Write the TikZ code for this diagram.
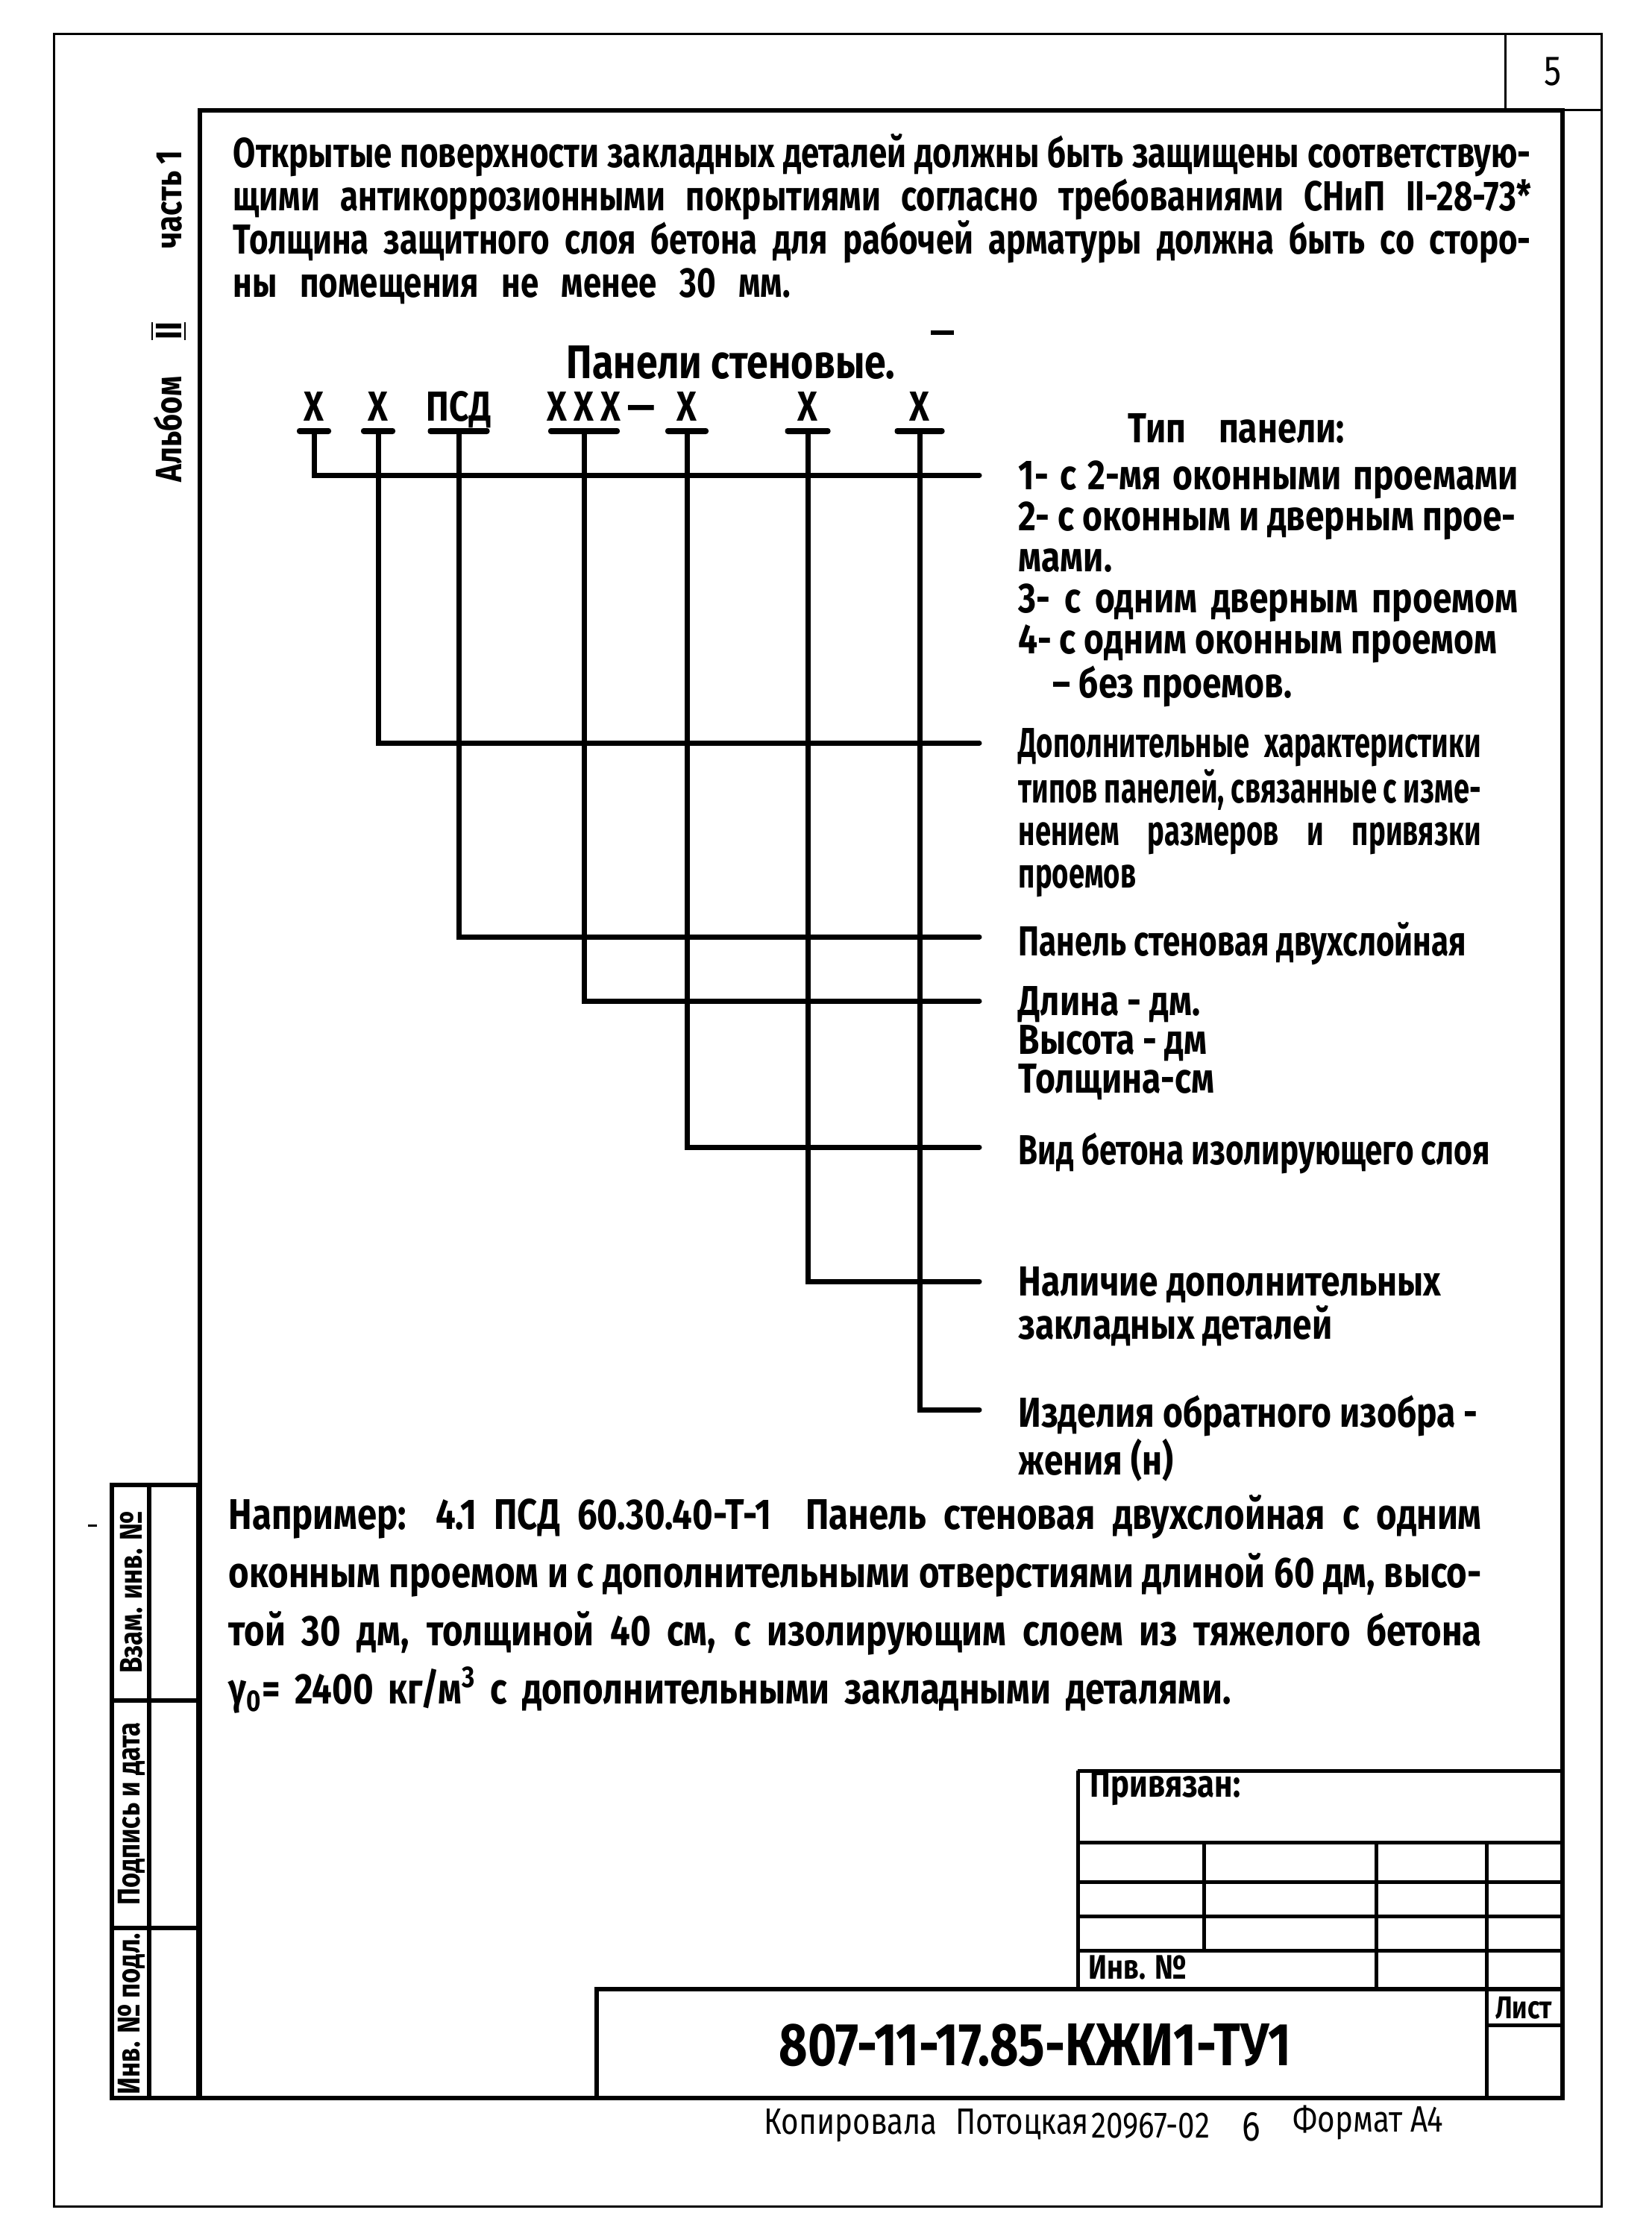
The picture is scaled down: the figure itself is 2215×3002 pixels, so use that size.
\documentclass[tikz,border=0pt]{standalone}
\usepackage{fontspec}
\setmainfont[FakeStretch=0.82]{Fira Sans}
\newfontfamily\notefont[FakeStretch=0.78]{Fira Sans}
\newfontfamily\tightfont[FakeStretch=0.75]{Fira Sans}
\newfontfamily\slimfont[FakeStretch=0.68]{Fira Sans}
\usetikzlibrary{positioning}

\begin{document}
\begin{tikzpicture}[
  x=0.1mm, y=-0.1mm,
  sheet/.style={line width=0.3mm},
  frame/.style={line width=0.6mm},
  grid/.style={line width=0.5mm},
  leader/.style={line width=0.7mm, line cap=round},
  bar/.style={rectangle, fill=black, inner sep=0pt, minimum height=0.8mm, rounded corners=0.35mm},
  code/.style={inner sep=0pt, text height=3.4mm, text depth=0pt, font=\bfseries\fontsize{16}{16}\selectfont},
  note/.style={anchor=north west, align=justify, inner sep=0pt, font=\notefont\bfseries\fontsize{16}{5.8mm}\selectfont},
  legend/.style={anchor=north west, align=left, inner sep=0pt, font=\bfseries\fontsize{16}{5.5mm}\selectfont},
  stamp/.style={rotate=90, inner sep=0pt, font=\bfseries\fontsize{12}{12}\selectfont},
  cell/.style={anchor=west, inner sep=0pt, font=\bfseries\fontsize{14.5}{14.5}\selectfont}
]
\useasboundingbox (0,0) rectangle (2215,3002);

\draw[sheet] (72,45) rectangle (2147,2958);
\draw[sheet] (2018,45) -- (2018,147) -- (2147,147);
\node[inner sep=0pt, font=\fontsize{16}{16}\selectfont] (sheetNo) at (2082,96) {5};
\draw[frame] (268,148) rectangle (2095,2813);

\draw[frame] (150,1991) rectangle (266,2813);
\draw[frame] (200,1991) -- (200,2813);
\draw[frame] (150,2280) -- (266,2280);
\draw[frame] (150,2585) -- (266,2585);
\node[stamp] (stampA) at (176,2135) {Взам. инв. №};
\node[stamp] (stampB) at (176,2432) {Подпись и дата};
\node[stamp] (stampC) at (176,2700) {Инв. № подл.};
\draw[sheet] (118,2045) -- (130,2045);

\node[stamp, font=\bfseries\fontsize{14}{14}\selectfont] (album) at (226,424)
  {Альбом\quad$\overline{\underline{\mbox{II}}}$\qquad часть 1};

\node[note, text width=174mm] (topNote) at (312,179) {Открытые поверхности закладных деталей должны быть защищены соответствую-\linebreak
щими антикоррозионными покрытиями согласно требованиями СНиП II-28-73*\linebreak
Толщина защитного слоя бетона для рабочей арматуры должна быть со сторо-\linebreak
\makebox[74.7mm][s]{ны помещения не менее 30 мм.}};

\node[inner sep=0pt, font=\bfseries\fontsize{18}{18}\selectfont] (title) at (980,486) {Панели стеновые.};
\draw[frame] (1248,446) -- (1279,446);

\node[bar, minimum width=4.6mm] (barA) at (421,578) {};
\node[bar, minimum width=4.6mm] (barB) at (507,578) {};
\node[bar, minimum width=8.3mm] (barC) at (615,578) {};
\node[bar, minimum width=9.6mm] (barD) at (783,578) {};
\node[bar, minimum width=5.8mm] (barE) at (921,578) {};
\node[bar, minimum width=6.1mm] (barF) at (1083,578) {};
\node[bar, minimum width=6.7mm] (barG) at (1233,578) {};
\node[code, above=0.8mm of barA] (codeA) {Х};
\node[code, above=0.8mm of barB] (codeB) {Х};
\node[code, above=0.8mm of barC] (codeC) {ПСД};
\node[code, above=0.8mm of barD] (codeD) {Х\,Х\,Х};
\node[code, right=0.8mm of codeD] (dashD) {—};
\node[code, above=0.8mm of barE] (codeE) {Х};
\node[code, above=0.8mm of barF] (codeF) {Х};
\node[code, above=0.8mm of barG] (codeG) {Х};

\node[legend] (lblHead) at (1512,554) {Тип\ \ \ \ панели:};
\node[legend, align=justify, text width=67mm] (lblType) at (1365,617) {1- с 2-мя оконными проемами\linebreak
2- с оконным и дверным прое-\\
мами.\\
3- с одним дверным проемом\linebreak
4- с одним оконным проемом\\
\hspace*{4.6mm}– без проемов.};
\node[legend, align=justify, text width=62mm, font=\slimfont\bfseries\fontsize{16}{5.7mm}\selectfont] (lblExtra) at (1365,976) {Дополнительные характеристики\linebreak
типов панелей, связанные с изме-\linebreak
нением размеров и привязки\linebreak
проемов};
\node[legend, font=\tightfont\bfseries\fontsize{16}{16}\selectfont] (lblPanel) at (1365,1236) {Панель стеновая двухслойная};
\node[legend, font=\bfseries\fontsize{16}{5.2mm}\selectfont] (lblSize) at (1365,1322) {Длина - дм.\\
Высота - дм\\
Толщина-см};
\node[legend, font=\tightfont\bfseries\fontsize{16}{16}\selectfont] (lblConcrete) at (1365,1518) {Вид бетона изолирующего слоя};
\node[legend, font=\bfseries\fontsize{16}{5.2mm}\selectfont] (lblParts) at (1365,1698) {Наличие дополнительных\\
закладных деталей};
\node[legend, font=\bfseries\fontsize{16}{5.4mm}\selectfont] (lblMirror) at (1365,1870) {Изделия обратного изобра -\\
жения (н)};

\draw[leader] (barA.south) |- ([xshift=-5.2mm,yshift=-2mm]lblType.north west);
\draw[leader] (barB.south) |- ([xshift=-5.2mm,yshift=-2mm]lblExtra.north west);
\draw[leader] (barC.south) |- ([xshift=-5.2mm,yshift=-2mm]lblPanel.north west);
\draw[leader] (barD.south) |- ([xshift=-5.2mm,yshift=-2mm]lblSize.north west);
\draw[leader] (barE.south) |- ([xshift=-5.2mm,yshift=-2mm]lblConcrete.north west);
\draw[leader] (barF.south) |- ([xshift=-5.2mm,yshift=-2mm]lblParts.north west);
\draw[leader] (barG.south) |- ([xshift=-5.2mm,yshift=-2mm]lblMirror.north west);

\node[note, text width=168mm, font=\bfseries\fontsize{16.4}{7.8mm}\selectfont] (example) at (306,2004) {Например: 4.1 ПСД 60.30.40-Т-1\ \ Панель стеновая двухслойная с одним\linebreak
оконным проемом и с дополнительными отверстиями длиной 60 дм, высо-\linebreak
той 30 дм, толщиной 40 см, с изолирующим слоем из тяжелого бетона\linebreak
\makebox[134.4mm][s]{γ\textsubscript{0}= 2400 кг/м\textsuperscript{3} с дополнительными закладными деталями.}};

\draw[grid] (1445,2374) -- (2095,2374);
\draw[grid] (1445,2374) -- (1445,2667);
\draw[grid] (1445,2470) -- (2095,2470);
\draw[grid] (1445,2523) -- (2095,2523);
\draw[grid] (1445,2569) -- (2095,2569);
\draw[grid] (1445,2615) -- (2095,2615);
\draw[grid] (1614,2470) -- (1614,2615);
\draw[grid] (1845,2470) -- (1845,2667);
\draw[grid] (1993,2470) -- (1993,2813);
\draw[frame] (800,2667) rectangle (2095,2813);
\draw[grid] (1993,2715) -- (2095,2715);
\node[cell] (bound) at (1461,2397) {Привязан:};
\node[cell, font=\bfseries\fontsize{13}{13}\selectfont] (invNo) at (1459,2638) {Инв. №};
\node[cell, anchor=center, font=\bfseries\fontsize{12}{12}\selectfont] (sheetLbl) at (2043,2692) {Лист};
\node[inner sep=0pt, font=\bfseries\fontsize{23}{23}\selectfont] (docCode) at (1388,2742) {807-11-17.85-КЖИ1-ТУ1};

\node[anchor=west, inner sep=0pt, font=\fontsize{14}{14}\selectfont] (copyBy) at (1024,2850) {Копировала\hspace{2.5mm}Потоцкая};
\node[right=0.2mm of copyBy, inner sep=0pt, font=\fontsize{14}{14}\selectfont] (orderNo) {20967-02};
\node[inner sep=0pt, font=\fontsize{16}{16}\selectfont] (copyNo) at (1678,2852) {6};
\node[anchor=west, inner sep=0pt, font=\fontsize{14}{14}\selectfont] (format) at (1733,2846) {Формат А4};
\end{tikzpicture}
\end{document}
